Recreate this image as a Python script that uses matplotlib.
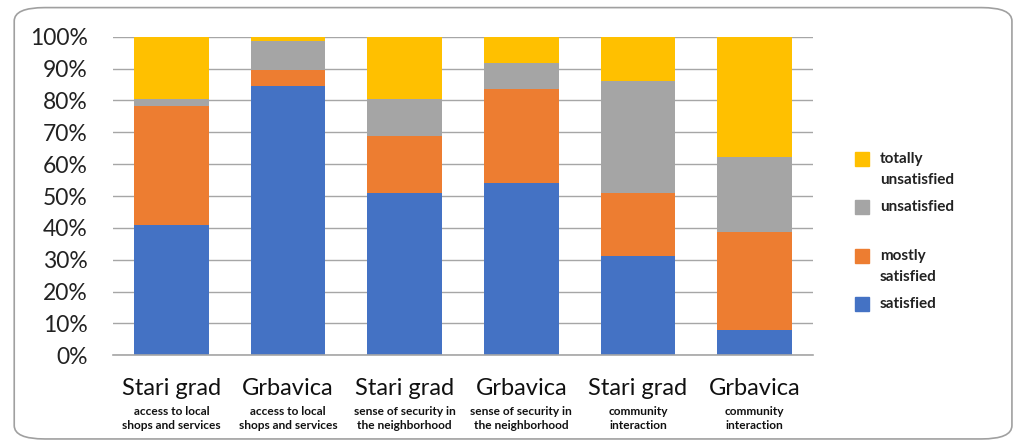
import matplotlib.pyplot as plt
from matplotlib.patches import FancyBboxPatch, Rectangle
from matplotlib.ticker import PercentFormatter
import numpy as np

# data (percent)
places = ["Stari grad", "Grbavica", "Stari grad", "Grbavica", "Stari grad", "Grbavica"]
topics = ["access to local\nshops and services", "access to local\nshops and services",
          "sense of security in\nthe neighborhood", "sense of security in\nthe neighborhood",
          "community\ninteraction", "community\ninteraction"]
satisfied = [40.9, 84.6, 50.9, 54.0, 31.3, 8.0]
mostly_satisfied = [37.4, 4.8, 17.8, 29.6, 19.6, 30.8]
unsatisfied = [2.1, 9.4, 11.7, 8.1, 35.1, 23.4]
totally_unsatisfied = [19.6, 1.2, 19.6, 8.3, 14.0, 37.8]

series = [
    ("satisfied", satisfied, "#4472C4"),
    ("mostly\nsatisfied", mostly_satisfied, "#ED7D31"),
    ("unsatisfied", unsatisfied, "#A5A5A5"),
    ("totally\nunsatisfied", totally_unsatisfied, "#FFC000"),
]

plt.rcParams['font.family'] = ['Lato', 'DejaVu Sans']

W, H = 1016, 447
fig = plt.figure(figsize=(W / 100, H / 100), dpi=100)
ax = fig.add_axes([0.1112, 0.2051, 0.689, 0.7128])

x = np.arange(len(places))
bottom = np.zeros(len(places))
for name, vals, col in series:
    ax.bar(x, vals, bottom=bottom, width=0.64, color=col, label=name, zorder=2)
    bottom += np.array(vals)

ax.set_xlim(-0.5, len(places) - 0.5)
ax.set_ylim(0, 100)
ax.set_yticks(np.arange(0, 101, 10))
ax.yaxis.set_major_formatter(PercentFormatter(decimals=0))
ax.tick_params(axis="y", length=0, pad=18, labelsize=16.5, labelcolor="#222222")
ax.set_xticks([])
ax.grid(axis="y", color="#A6A6A6", linewidth=1, zorder=0)
for s in ["left", "right", "top"]:
    ax.spines[s].set_visible(False)
ax.spines["bottom"].set_color("#A6A6A6")
ax.spines["bottom"].set_linewidth(1.2)

# two-level category labels
tr = ax.get_xaxis_transform()
for i in range(len(places)):
    ax.text(x[i], -0.103, places[i], transform=tr, ha="center", va="center",
            fontsize=17, color="#111111")
    ax.text(x[i], -0.16, topics[i], transform=tr, ha="center", va="top",
            fontsize=8.6, fontweight="bold", color="#111111", linespacing=1.25)

# legend drawn by hand: patch beside the first line of each label
for i, (name, vals, col) in enumerate(series[::-1]):
    yc = 159 + 48.3 * i
    fig.add_artist(Rectangle(((855) / W, 1 - (yc + 7) / H), 14 / W, 14 / H,
                             transform=fig.transFigure, color=col))
    for j, line in enumerate(name.split("\n")):
        fig.text(880 / W, 1 - (yc + 21 * j) / H, line, ha="left", va="center",
                 fontsize=11, fontweight="bold", color="#222222")

# rounded outer frame
fig.patches.append(FancyBboxPatch((0.014, 0.018), 0.982, 0.965,
                                  boxstyle="round,pad=0,rounding_size=0.03",
                                  transform=fig.transFigure, facecolor="none",
                                  edgecolor="#A0A0A0", linewidth=1.2))

fig.savefig("out.png", dpi=100)
